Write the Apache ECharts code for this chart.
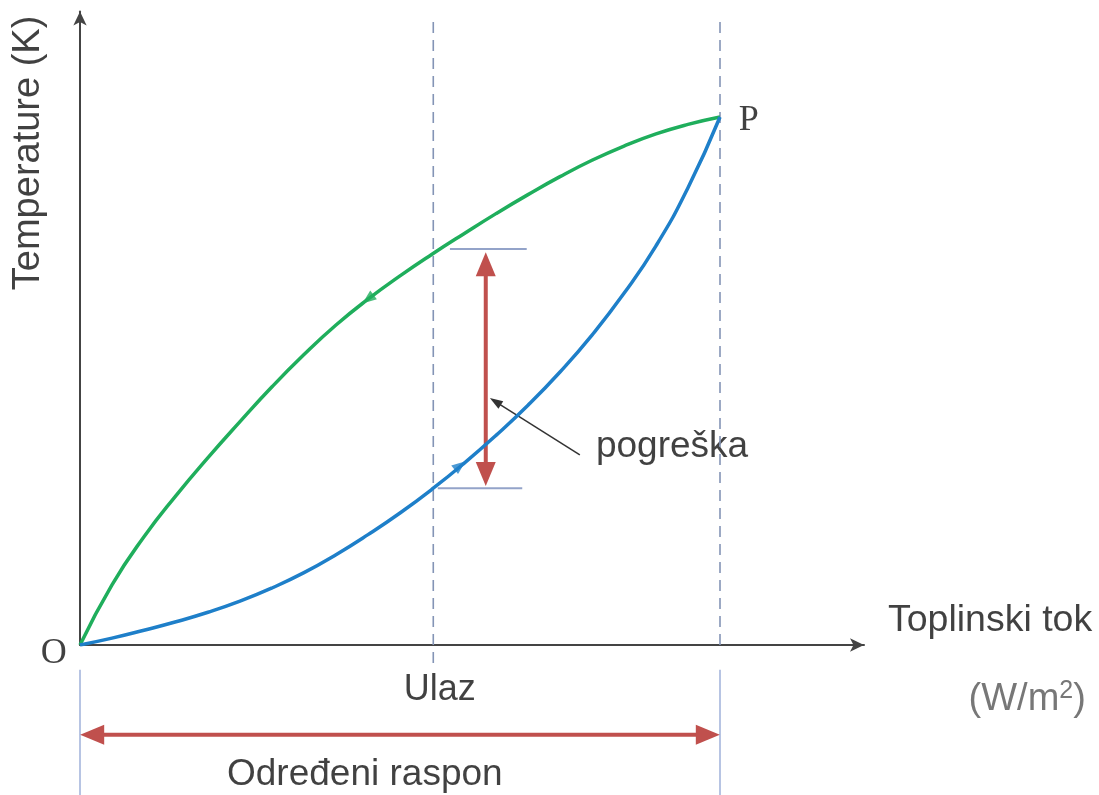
<!DOCTYPE html>
<html>
<head>
<meta charset="utf-8">
<script src="https://cdn.jsdelivr.net/npm/echarts@6/dist/echarts.min.js"></script>
<style>
  html, body { margin: 0; padding: 0; background: #fff; }
  #chartDom { width: 1099px; height: 795px; }
</style>
</head>
<body>
<div id="chartDom"></div>
<script>
// heat flux steps shared by both branches
var fluxX = [0, 5, 10, 15, 20, 25, 30, 35, 40, 45, 50, 55, 60, 65, 70, 75, 80, 85, 90, 95, 100];
// heating branch (blue, O -> P)
var heatingY = [0, 1.3, 2.8, 4.4, 6.2, 8.3, 10.8, 13.7, 17.1, 20.9, 25.0, 29.5, 34.4, 39.7, 45.4, 51.7, 58.7, 66.6, 75.6, 86.6, 100];
// cooling branch (green, P -> O)
var coolingY = [0, 11.4, 20.5, 28.3, 35.5, 42.3, 48.9, 55.0, 60.6, 65.5, 69.9, 74.0, 77.9, 81.7, 85.3, 88.7, 91.8, 94.5, 96.8, 98.6, 100];

// reading point ("Ulaz"), end of the range and error at the reading
var inputX = 55.2;
var rangeEnd = 100;
var errorTop = 74.4;
var errorBottom = 30.1;

var red = '#c0504d';
var guide = '#8494b6';
var capColor = '#93a3c9';

function pairs(xs, ys) {
    return xs.map(function (x, i) { return [x, ys[i]]; });
}

// one straight piece drawn as its own line series; ends may carry an arrow head
function seg(a, b, style, headA, headB) {
    function end(p, head) {
        if (!head) return { value: p, symbol: 'none' };
        return { value: p, symbol: 'triangle', symbolSize: head.size, symbolRotate: head.rot,
                 itemStyle: { color: style.color } };
    }
    return {
        type: 'line', silent: true, clip: false, showSymbol: true,
        data: [end(a, headA), end(b, headB)],
        lineStyle: style
    };
}

var redHead = [20, 24];
var segSeries = [
    seg([inputX, 118], [inputX, -4.4], { color: guide, width: 1.6, type: [11, 7] }),
    seg([rangeEnd, 118], [rangeEnd, 0], { color: guide, width: 1.6, type: [11, 7] }),
    seg([0, -4.7], [0, -28.4], { color: '#9fb1da', width: 1.5 }),
    seg([rangeEnd, -4.7], [rangeEnd, -28.4], { color: '#9fb1da', width: 1.5 }),
    seg([1.9, -17], [98.1, -17], { color: red, width: 4 },
        { size: redHead, rot: 90 }, { size: redHead, rot: -90 }),
    seg([57.8, 75.0], [69.8, 75.0], { color: capColor, width: 2 }),
    seg([55.9, 29.7], [69.1, 29.7], { color: capColor, width: 2 }),
    seg([63.4, errorTop - 2.3], [63.4, errorBottom + 2.3], { color: red, width: 4 },
        { size: redHead, rot: 0 }, { size: redHead, rot: 180 }),
    seg([78.1, 36.0], [64.9, 46.1], { color: '#333', width: 1.5 },
        null, { size: [9, 13], rot: 57.6 })
];

var textItems = [
    { value: [-8.0, 93.2], text: 'Temperature (K)', size: 38, rotate: 90 },
    { value: [142.2, 4.7], text: 'Toplinski tok', size: 37.5 },
    { value: [148.0, -10.4], text: '{a|(W/m}{s|2}{a|)}', size: 38 },
    { value: [56.2, -8.5], text: 'Ulaz', size: 36 },
    { value: [44.5, -24.6], text: 'Određeni raspon', size: 37 },
    { value: [92.5, 37.5], text: 'pogreška', size: 37 },
    { value: [-4.1, -1.7], text: 'O', size: 36, serif: true },
    { value: [104.5, 99.4], text: 'P', size: 36, serif: true }
];

var chartDom = echarts.init(document.getElementById('chartDom'));
chartDom.setOption({
    animation: false,
    backgroundColor: '#fff',
    grid: { left: 80, top: 11.4, width: 784, height: 633.6 },
    xAxis: {
        type: 'value', min: 0, max: 122.5,
        axisLine: { lineStyle: { color: '#444', width: 2 }, symbol: ['none', 'arrow'], symbolSize: [10, 14] },
        axisTick: { show: false }, axisLabel: { show: false }, splitLine: { show: false }
    },
    yAxis: {
        type: 'value', min: 0, max: 120,
        axisLine: { lineStyle: { color: '#444', width: 2 }, symbol: ['none', 'arrow'], symbolSize: [10, 14] },
        axisTick: { show: false }, axisLabel: { show: false }, splitLine: { show: false }
    },
    series: segSeries.concat([
        {
            name: 'cooling', type: 'line', data: pairs(fluxX, coolingY), smooth: 0.5,
            showSymbol: false, lineStyle: { color: '#1fae5c', width: 3.5 }
        },
        {
            name: 'heating', type: 'line', data: pairs(fluxX, heatingY), smooth: 0.5,
            showSymbol: false, lineStyle: { color: '#1e7fc9', width: 3.5 }
        },
        {
            name: 'direction', type: 'scatter', silent: true, symbol: 'triangle', symbolSize: [11, 14],
            data: [
                { value: [45, 65.5], symbolRotate: 127.4, itemStyle: { color: '#1fae5c' } },
                { value: [59.4, 34.0], symbolRotate: -52, itemStyle: { color: '#1e7fc9' } }
            ]
        },
        {
            name: 'texts', type: 'scatter', silent: true, clip: false, symbolSize: 0,
            data: textItems.map(function (t) {
                return {
                    value: t.value,
                    label: {
                        show: true, position: 'inside', formatter: t.text, rotate: t.rotate || 0,
                        fontSize: t.size, color: '#111', align: 'center', verticalAlign: 'middle',
                        fontFamily: t.serif ? 'Liberation Serif' : 'Liberation Sans',
                        rich: {
                            a: { fontSize: 38, color: '#555', fontFamily: 'Liberation Sans', lineHeight: 42 },
                            s: { fontSize: 25, color: '#555', fontFamily: 'Liberation Sans', verticalAlign: 'top', lineHeight: 42 }
                        }
                    }
                };
            })
        }
    ])
});
</script>
</body>
</html>
